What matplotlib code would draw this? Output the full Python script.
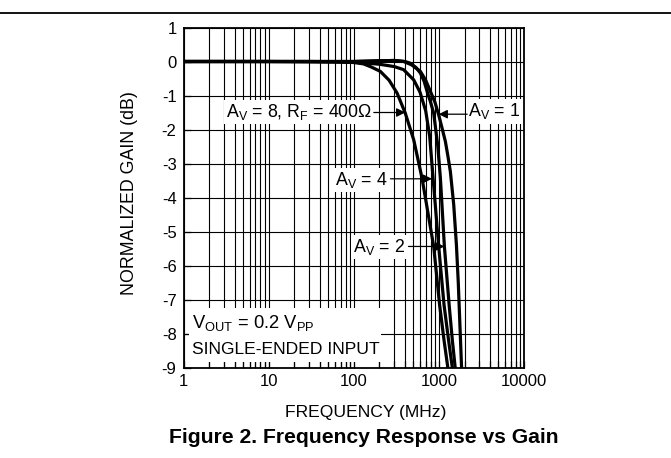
import matplotlib
matplotlib.use("Agg")
import matplotlib.pyplot as plt
from matplotlib.lines import Line2D
from matplotlib.patches import Rectangle

plt.rcParams['font.family'] = ['Liberation Sans', 'DejaVu Sans']
plt.rcParams['mathtext.fontset'] = 'custom'
plt.rcParams['mathtext.rm'] = 'Liberation Sans'
plt.rcParams['axes.unicode_minus'] = False

# ---- data (frequency in MHz, normalized gain in dB) ----
freq_av8 = [1, 10, 30, 60, 100, 130, 160, 205, 260, 323, 403, 506, 634, 727, 869, 1020, 1150, 1280, 1310]
gain_av8 = [0, 0, 0, -0.01, -0.03, -0.07, -0.16, -0.29, -0.55, -0.93, -1.52, -2.3, -3.43, -4.3, -5.44, -7.16, -8.2, -9.04, -9.3]

freq_av4 = [1, 10, 100, 200, 300, 385, 506, 600, 700, 780, 855, 920, 995, 1150, 1300, 1445, 1480]
gain_av4 = [0, 0, -0.02, -0.08, -0.15, -0.24, -0.54, -0.9, -1.45, -2.2, -3.43, -4.4, -5.44, -7.16, -8.2, -9.04, -9.3]

freq_av2 = [1, 10, 100, 200, 300, 400, 462, 540, 606, 670, 727, 800, 869, 968, 1042, 1161, 1320, 1440, 1560, 1600]
gain_av2 = [0, 0, 0, 0.02, 0.03, 0.0, -0.05, -0.18, -0.34, -0.58, -0.88, -1.2, -1.52, -2.45, -3.43, -5.44, -7.16, -8.2, -9.04, -9.3]

freq_av1 = [1, 10, 100, 200, 300, 385, 480, 606, 700, 795, 900, 995, 1100, 1192, 1280, 1365, 1494, 1607, 1690, 1770, 1850, 1870]
gain_av1 = [0, 0, 0, 0.02, 0.03, 0.0, -0.1, -0.29, -0.55, -0.88, -1.2, -1.57, -2.0, -2.35, -2.8, -3.24, -4.21, -5.39, -6.5, -7.8, -9.04, -9.3]

x_ticks = [1, 10, 100, 1000, 10000]
x_tick_labels = ['1', '10', '100', '1000', '10000']
y_ticks = [1, 0, -1, -2, -3, -4, -5, -6, -7, -8, -9]
y_tick_labels = ['1', '0', '-1', '-2', '-3', '-4', '-5', '-6', '-7', '-8', '-9']

W, H = 671, 458
fig = plt.figure(figsize=(W / 100, H / 100), dpi=100)
ax = fig.add_axes([183.5 / W, 1 - 367.5 / H, 340.5 / W, 340 / H])

ax.set_xscale('log')
ax.set_xlim(1, 10000)
ax.set_ylim(-9, 1)
ax.set_axisbelow(True)

ax.set_xticks(x_ticks)
ax.set_xticklabels(x_tick_labels)
ax.set_yticks(y_ticks)
ax.set_yticklabels(y_tick_labels)
ax.xaxis.set_minor_locator(matplotlib.ticker.LogLocator(base=10, subs=range(2, 10), numticks=20))
ax.xaxis.set_minor_formatter(matplotlib.ticker.NullFormatter())
ax.tick_params(which='both', direction='in', top=False, right=False, labelsize=12,
               colors='black', width=0.9)
ax.tick_params(which='major', length=5, pad=5)
ax.tick_params(which='minor', length=5)
ax.grid(which='both', axis='x', color='black', linewidth=0.8)
ax.grid(which='major', axis='y', color='black', linewidth=0.8)
for s in ax.spines.values():
    s.set_linewidth(1.3)
    s.set_color('black')

# white box behind the conditions text (covers grid lines)
ax.add_patch(Rectangle((1.16, -8.84), 211 - 1.16, 8.84 - 7.24, facecolor='white',
                       edgecolor='none', zorder=1))

for f, g in [(freq_av8, gain_av8), (freq_av4, gain_av4), (freq_av2, gain_av2), (freq_av1, gain_av1)]:
    ax.plot(f, g, color='black', linewidth=2.3, solid_joinstyle='round', zorder=3)

bbox = dict(facecolor='white', edgecolor='none', pad=1.5)
fs = 12.8
arrow = dict(arrowstyle='-|>', color='black', lw=0.9, mutation_scale=13, shrinkA=0, shrinkB=0)

ax.text(165, -1.48, 'A$_\\mathregular{V}$ = 8, R$_\\mathregular{F}$ = 400Ω', ha='right', va='center',
        fontsize=fs, bbox=bbox, zorder=4)
ax.annotate('', xy=(403, -1.5), xytext=(172, -1.5), arrowprops=arrow, zorder=4)

ax.text(2223, -1.47, 'A$_\\mathregular{V}$ = 1', ha='left', va='center', fontsize=fs, bbox=bbox, zorder=4)
ax.annotate('', xy=(995, -1.55), xytext=(2150, -1.55), arrowprops=arrow, zorder=4)

ax.text(248, -3.48, 'A$_\\mathregular{V}$ = 4', ha='right', va='center', fontsize=fs, bbox=bbox, zorder=4)
ax.annotate('', xy=(830, -3.45), xytext=(270, -3.45), arrowprops=arrow, zorder=4)

ax.text(403, -5.45, 'A$_\\mathregular{V}$ = 2', ha='right', va='center', fontsize=fs, bbox=bbox, zorder=4)
ax.annotate('', xy=(1161, -5.44), xytext=(440, -5.44), arrowprops=arrow, zorder=4)

ax.text(1.26, -7.69, 'V$_\\mathregular{OUT}$ = 0.2 V$_\\mathregular{PP}$', ha='left', va='center',
        fontsize=13.2, zorder=4)
ax.text(1.26, -8.48, 'SINGLE-ENDED INPUT', ha='left', va='center', fontsize=12.6, zorder=4)

fig.text(130 / W, 1 - 193 / H, 'NORMALIZED GAIN (dB)', rotation=90, ha='center', va='center', fontsize=12.8)
fig.text(366 / W, 1 - 412.5 / H, 'FREQUENCY (MHz)', ha='center', va='center', fontsize=12.6)
fig.text(364 / W, 1 - 437.5 / H, 'Figure 2. Frequency Response vs Gain', ha='center', va='center',
         fontsize=15.2, fontweight='bold')

fig.add_artist(Line2D([0, 1], [1 - 12.5 / H, 1 - 12.5 / H], color='black', linewidth=1.3))

fig.savefig('out.png', dpi=100)
